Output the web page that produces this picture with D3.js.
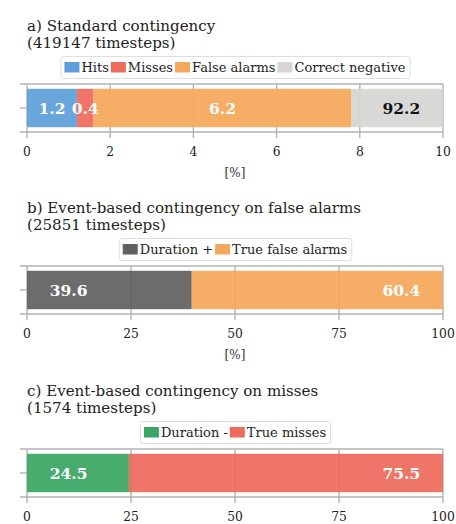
<!DOCTYPE html>
<html>
<head>
<meta charset="utf-8">
<script src="https://cdn.jsdelivr.net/npm/d3@7"></script>
<style>
  body { margin: 0; background: #fff; }
  text { font-family: "DejaVu Serif", serif; }
</style>
</head>
<body>
<svg id="chart" width="456" height="524"></svg>
<script>
// panel titles
const titles = [
  ["a) Standard contingency", "(419147 timesteps)"],
  ["b) Event-based contingency on false alarms", "(25851 timesteps)"],
  ["c) Event-based contingency on misses", "(1574 timesteps)"]
]

// categories per panel
const catsA = ["Hits", "Misses", "False alarms", "Correct negative"]
const catsB = ["Duration +", "True false alarms"]
const catsC = ["Duration -", "True misses"]

// values in percent
const valsA = [1.2, 0.4, 6.2, 92.2]
const valsB = [39.6, 60.4]
const valsC = [24.5, 75.5]

// x axis
const domainA = [0, 10]
const domainBC = [0, 100]
const ticksA = [0, 2, 4, 6, 8, 10]
const ticksBC = [0, 25, 50, 75, 100]

const colorsA = ["#5d9fd8", "#ee6b5c", "#f5a85b", "#d5d5d4"]
const colorsB = ["#616161", "#f5a85b"]
const colorsC = ["#3aa664", "#ee6b5c"]
const labelColorsA = ["#fff", "#fff", "#fff", "#111"]

const panels = [
  { title: titles[0], cats: catsA, vals: valsA, domain: domainA, ticks: ticksA, colors: colorsA, labelColors: labelColorsA, top: 84, fixedLabels: false, unit: true },
  { title: titles[1], cats: catsB, vals: valsB, domain: domainBC, ticks: ticksBC, colors: colorsB, labelColors: ["#fff", "#fff"], top: 266, fixedLabels: true, unit: true },
  { title: titles[2], cats: catsC, vals: valsC, domain: domainBC, ticks: ticksBC, colors: colorsC, labelColors: ["#fff", "#fff"], top: 449, fixedLabels: true, unit: false }
]

const svg = d3.select("#chart")
const left = 27, right = 443, plotH = 48
const grid = "#b3b3b3"

panels.forEach(function (p) {
  const g = svg.append("g")
  const x = d3.scaleLinear().domain(p.domain).range([left, right])
  const y = d3.scaleLinear().domain([-0.5, 0.5]).range([p.top + plotH, p.top])

  // titles
  g.append("text").attr("x", left).attr("y", p.top - 53)
    .attr("font-size", 15.1).attr("fill", "#222").text(p.title[0])
  g.append("text").attr("x", left).attr("y", p.top - 36)
    .attr("font-size", 15.1).attr("fill", "#222").text(p.title[1])

  // gridlines (vertical at ticks, horizontal frame)
  g.selectAll(".vgrid").data(p.ticks).enter().append("line")
    .attr("x1", d => x(d)).attr("x2", d => x(d))
    .attr("y1", p.top).attr("y2", p.top + plotH + 6)
    .attr("stroke", grid).attr("stroke-width", 1.4)
  g.selectAll(".hgrid").data([-0.5, 0, 0.5]).enter().append("line")
    .attr("x1", left - 7).attr("x2", d => Math.abs(d) === 0.5 ? right : left)
    .attr("y1", d => y(d)).attr("y2", d => y(d))
    .attr("stroke", grid).attr("stroke-width", 1.4)

  // stacked bar
  let acc = 0
  const segs = p.vals.map(function (v, i) {
    const s = { start: acc, end: acc + v, v: v, i: i }
    acc += v
    return s
  })
  const barH = y(-0.4) - y(0.4)
  const clipId = "clip" + p.top
  g.append("clipPath").attr("id", clipId).append("rect")
    .attr("x", left).attr("y", p.top).attr("width", right - left).attr("height", plotH)
  g.append("g").attr("clip-path", "url(#" + clipId + ")")
    .selectAll("rect").data(segs).enter().append("rect")
    .attr("x", d => x(d.start))
    .attr("width", d => x(d.end) - x(d.start))
    .attr("y", y(0.4)).attr("height", barH)
    .attr("fill", d => p.colors[d.i]).attr("fill-opacity", 0.93)

  // value labels
  const dMax = p.domain[1]
  g.selectAll(".lbl").data(segs).enter().append("text")
    .attr("x", function (d) {
      let pos
      if (d.i === segs.length - 1) pos = dMax * 0.9
      else if (p.fixedLabels) pos = dMax * 0.1
      else pos = (d.start + Math.min(d.end, dMax)) / 2
      return x(pos)
    })
    .attr("y", y(0) + 5.5)
    .attr("text-anchor", "middle").attr("font-size", 15.5).attr("font-weight", "bold")
    .attr("fill", d => p.labelColors[d.i])
    .text(d => d.v.toFixed(1))

  // tick labels
  g.selectAll(".tl").data(p.ticks).enter().append("text")
    .attr("x", d => x(d)).attr("y", p.top + plotH + 24)
    .attr("text-anchor", "middle").attr("font-size", 12.3).attr("fill", "#222")
    .text(d => d)
  if (p.unit) {
    g.append("text").attr("x", (left + right) / 2).attr("y", p.top + plotH + 45)
      .attr("text-anchor", "middle").attr("font-size", 12).attr("fill", "#333").text("[%]")
  }

  // legend
  const lg = g.append("g")
  const box = lg.append("rect").attr("rx", 2.5)
    .attr("fill", "#fff").attr("fill-opacity", 0.8).attr("stroke", "#dedede")
  let cx = 4
  p.cats.forEach(function (c, i) {
    lg.append("rect").attr("x", cx).attr("y", 6).attr("width", 15).attr("height", 10.5)
      .attr("fill", p.colors[i])
    const t = lg.append("text").attr("x", cx + 17).attr("y", 15.8)
      .attr("font-size", 13).attr("fill", "#222").text(c)
    cx += 17 + t.node().getComputedTextLength() + 2
  })
  const w = cx + 2
  box.attr("x", 0.5).attr("y", 0.5).attr("width", w).attr("height", 22)
  lg.attr("transform", "translate(" + ((left + right) / 2 - w / 2) + "," + (p.top - 28) + ")")
})
</script>
</body>
</html>
